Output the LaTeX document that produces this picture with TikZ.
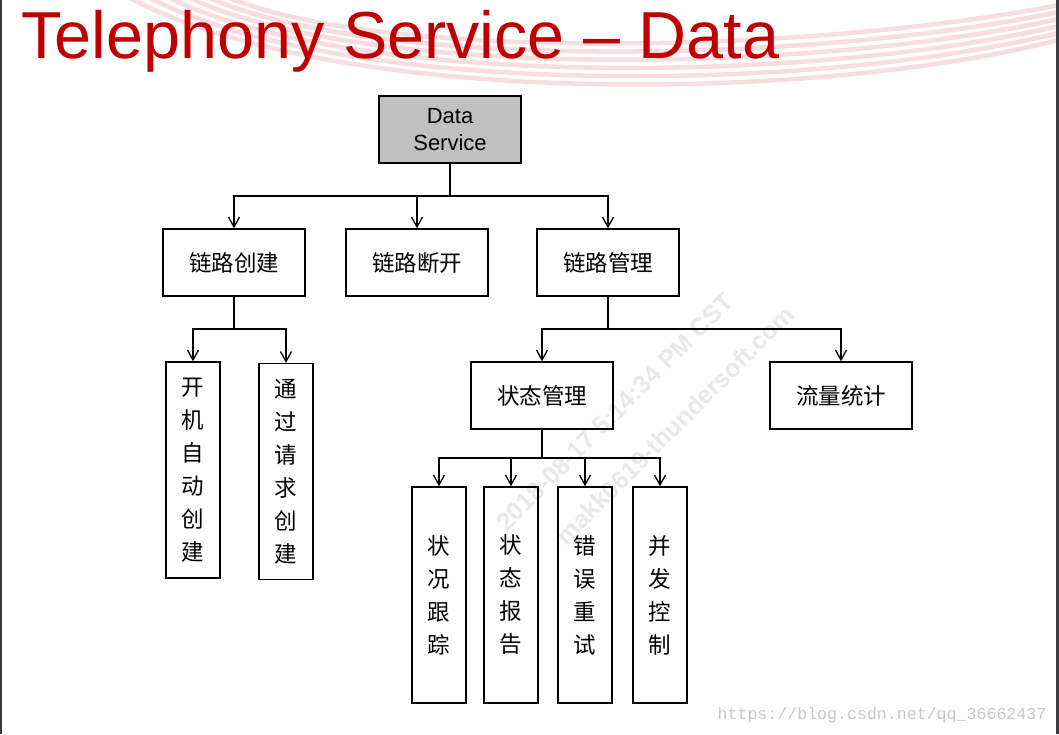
\documentclass[tikz,border=0pt]{standalone}
\usepackage{fontspec}
\setmainfont{Liberation Sans}
\newfontfamily\cjk{Noto Sans CJK SC}
\newfontfamily\wmmono{Liberation Mono}
\usetikzlibrary{arrows.meta}
\definecolor{tsTitle}{RGB}{192,0,0}
\definecolor{tsRoot}{RGB}{192,192,192}
\definecolor{tsSwoosh}{RGB}{226,120,130}
\definecolor{tsFrame}{RGB}{60,60,64}

\begin{document}
\begin{tikzpicture}[x=1pt, y=-1pt, line width=1.3pt,
  hbox/.style={draw, minimum width=142pt, minimum height=67pt, inner sep=0pt,
               font=\cjk\fontsize{22.5}{27}\selectfont},
  vbox/.style={draw, minimum width=54pt, minimum height=216pt, inner sep=0pt,
               align=center, font=\cjk\fontsize{22.5}{33}\selectfont},
  arr/.style={-{Straight Barb[length=10pt,width=11pt]}}]
\useasboundingbox (0,0) rectangle (1059,734);
%% slide background: swoosh, frame, watermark
\begin{scope}
  \clip (0,0) rectangle (1059,734);
  \foreach \i in {0,...,5} {
    \draw[tsSwoosh, opacity=0.25, line width=4.5pt]
      (130+20*\i, -2) .. controls (330+10*\i, 105-9*\i) and (800, 105-10*\i) .. (1059, 40-7*\i);
  }
\end{scope}
\fill[tsFrame] (0,0) rectangle (2,734);
\fill[tsFrame] (1055.5,0) rectangle (1059,734);
\node[rotate=45, text=black!9, font=\bfseries\fontsize{25}{30}\selectfont] (wmDate) at (615,412) {2018-08-17 5:14:34 PM CST};
\node[rotate=45, text=black!9, font=\bfseries\fontsize{25}{30}\selectfont] (wmHost) at (675,425) {makk0619-thundersoft.com};
\node[anchor=base east, inner sep=0pt, text=black!22, font=\wmmono\fontsize{16.6}{20}\selectfont]
  (url) at (1047,719) {https://blog.csdn.net/qq\_36662437};

%% title
\node[anchor=base west, inner sep=0pt, text=tsTitle, font=\fontsize{66.5}{70}\selectfont]
  (title) at (21,58) {Telephony Service – Data};

%% tree
\node[hbox, fill=tsRoot, align=center, font=\fontsize{22}{27}\selectfont] (ds) at (450,129.5) {Data\\Service};
\node[hbox] (lc) at (234,262.5) {链路创建};
\node[hbox] (ld) at (417,262.5) {链路断开};
\node[hbox] (lm) at (608,262.5) {链路管理};
\node[vbox] (kj) at (193,470) {开\\机\\自\\动\\创\\建};
\node[vbox] (tq) at (286,471.5) {通\\过\\请\\求\\创\\建};
\node[hbox] (zg) at (542,395.5) {状态管理};
\node[hbox] (ll) at (841,395.5) {流量统计};
\node[vbox] (zk) at (439,595) {状\\况\\跟\\踪};
\node[vbox] (zb) at (511,595) {状\\态\\报\\告};
\node[vbox] (cw) at (585,595) {错\\误\\重\\试};
\node[vbox] (bf) at (660,595) {并\\发\\控\\制};

%% connectors
\coordinate (dsBus) at (450,196);
\coordinate (lcBus) at (234,329);
\coordinate (lmBus) at (608,329);
\coordinate (zgBus) at (542,458);
\draw (ds.south) -- (dsBus);
\draw[arr] (dsBus) -| (lc.north);
\draw[arr] (dsBus) -| (ld.north);
\draw[arr] (dsBus) -| (lm.north);
\draw (lc.south) -- (lcBus);
\draw[arr] (lcBus) -| (kj.north);
\draw[arr] (lcBus) -| (tq.north);
\draw (lm.south) -- (lmBus);
\draw[arr] (lmBus) -| (zg.north);
\draw[arr] (lmBus) -| (ll.north);
\draw (zg.south) -- (zgBus);
\draw[arr] (zgBus) -| (zk.north);
\draw[arr] (zgBus) -| (zb.north);
\draw[arr] (zgBus) -| (cw.north);
\draw[arr] (zgBus) -| (bf.north);
\end{tikzpicture}
\end{document}
